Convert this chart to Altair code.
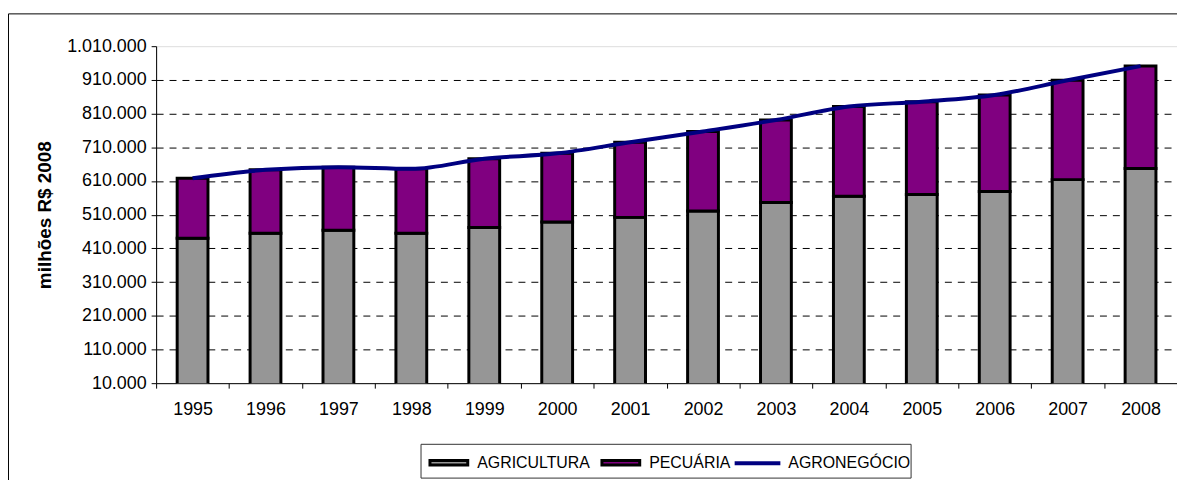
import altair as alt
import pandas as pd

anos = ["1995", "1996", "1997", "1998", "1999", "2000", "2001",
        "2002", "2003", "2004", "2005", "2006", "2007", "2008"]
agricultura = [440000, 455000, 464000, 455000, 472000, 488000, 502000,
               521000, 546000, 565000, 570000, 579000, 614000, 647000]
pecuaria = [178000, 188000, 187000, 191000, 204000, 204000, 223000,
            236000, 245000, 266000, 275000, 286000, 295000, 304000]
agronegocio = [618000, 643000, 651000, 646000, 676000, 692000, 725000,
               757000, 791000, 831000, 845000, 865000, 909000, 951000]
y_ticks = [10000, 110000, 210000, 310000, 410000, 510000,
           610000, 710000, 810000, 910000, 1010000]

series_barras = ["AGRICULTURA", "PECUÁRIA"]
cores_barras = ["#969696", "#800080"]
serie_linha = ["AGRONEGÓCIO"]
cor_linha = ["#000080"]

bars_df = pd.DataFrame({
    "ano": anos * 2,
    "serie": [series_barras[0]] * len(anos) + [series_barras[1]] * len(anos),
    "valor": agricultura + pecuaria,
    "ordem": [0] * len(anos) + [1] * len(anos),
})
line_df = pd.DataFrame({
    "ano": anos,
    "indicador": serie_linha * len(anos),
    "valor": agronegocio,
})

FONT = "Liberation Sans"

x_enc = alt.X(
    "ano:N", sort=anos,
    scale=alt.Scale(paddingInner=0, paddingOuter=0),
    axis=alt.Axis(title=None, labelAngle=0, tickBand="extent", tickSize=5,
                  labelPadding=13, labelFontSize=18, domainColor="#000000",
                  tickColor="#000000", labelColor="#000000", grid=False,
                  labelOverlap=False),
)
y_scale = alt.Scale(domain=[10000, 1010000], nice=False, zero=False)

bars = alt.Chart(bars_df).mark_bar(
    size=31, stroke="#000000", strokeWidth=3, clip=True
).encode(
    x=x_enc,
    y=alt.Y(
        "valor:Q", stack="zero", scale=y_scale,
        axis=alt.Axis(
            values=y_ticks, tickCount=11, labelOverlap=False,
            title="milhões R$ 2008",
            labelExpr="replace(format(datum.value, ','), regexp(',', 'g'), '.')",
            labelFontSize=18, labelPadding=5, tickSize=5, labelColor="#000000",
            tickColor="#000000", domainColor="#000000",
            titleFontSize=19, titleFontWeight="bold", titleColor="#000000",
            titleX=-102, titleY=169.5,
            grid=True, gridColor="#000000", gridDash=[7, 6], gridWidth=1,
            gridOpacity={"condition": {"test": "datum.value >= 1010000 || datum.value <= 10000", "value": 0}, "value": 1},
        ),
    ),
    fill=alt.Fill(
        "serie:N",
        scale=alt.Scale(domain=series_barras, range=cores_barras),
        legend=alt.Legend(
            title=None, orient="none", direction="horizontal",
            legendX=274, legendY=398.5, padding=0,
            symbolType="M-1,-0.12H1V0.12H-1Z", symbolSize=1444,
            symbolStrokeColor="#000000", symbolStrokeWidth=3,
            labelFontSize=16, labelOffset=8, columnPadding=5,
            labelColor="#000000",
        ),
    ),
    order=alt.Order("ordem:Q"),
)

line = alt.Chart(line_df).mark_line(
    strokeWidth=4, interpolate="monotone"
).encode(
    x=alt.X("ano:N", sort=anos),
    y=alt.Y("valor:Q", scale=y_scale),
    stroke=alt.Stroke(
        "indicador:N",
        scale=alt.Scale(domain=serie_linha, range=cor_linha),
        legend=alt.Legend(
            title=None, orient="none", direction="horizontal",
            legendX=580, legendY=394.5, padding=0,
            symbolType="stroke", symbolSize=2116, symbolStrokeWidth=4,
            labelFontSize=16, labelOffset=6, labelColor="#000000",
        ),
    ),
)

one = pd.DataFrame({"k": [0]})
frame_top = alt.Chart(one).mark_rule(color="#000000", strokeWidth=1).encode(
    x=alt.value(-148.5), x2=alt.value(1040), y=alt.value(-32.5))
frame_left = alt.Chart(one).mark_rule(color="#000000", strokeWidth=1).encode(
    x=alt.value(-148.5), y=alt.value(-32.5), y2=alt.value(450))
legend_box = alt.Chart(one).mark_rect(
    fillOpacity=0, stroke="#333333", strokeWidth=1
).encode(
    x=alt.value(266.5), x2=alt.value(759.5), y=alt.value(400.5), y2=alt.value(434.5))

chart = alt.layer(bars, line, frame_top, frame_left, legend_box).properties(
    width=1027, height=339,
    autosize=alt.AutoSizeParams(type="none"),
    padding={"left": 149, "top": 37, "right": 0, "bottom": 96},
    background="#ffffff",
).configure_view(
    stroke="#808080", strokeWidth=1
).configure(
    font=FONT
).configure_axis(
    labelFont=FONT, titleFont=FONT
).configure_legend(
    labelFont=FONT
)

chart.save("out.html", embed_options={"renderer": "svg", "actions": False})
